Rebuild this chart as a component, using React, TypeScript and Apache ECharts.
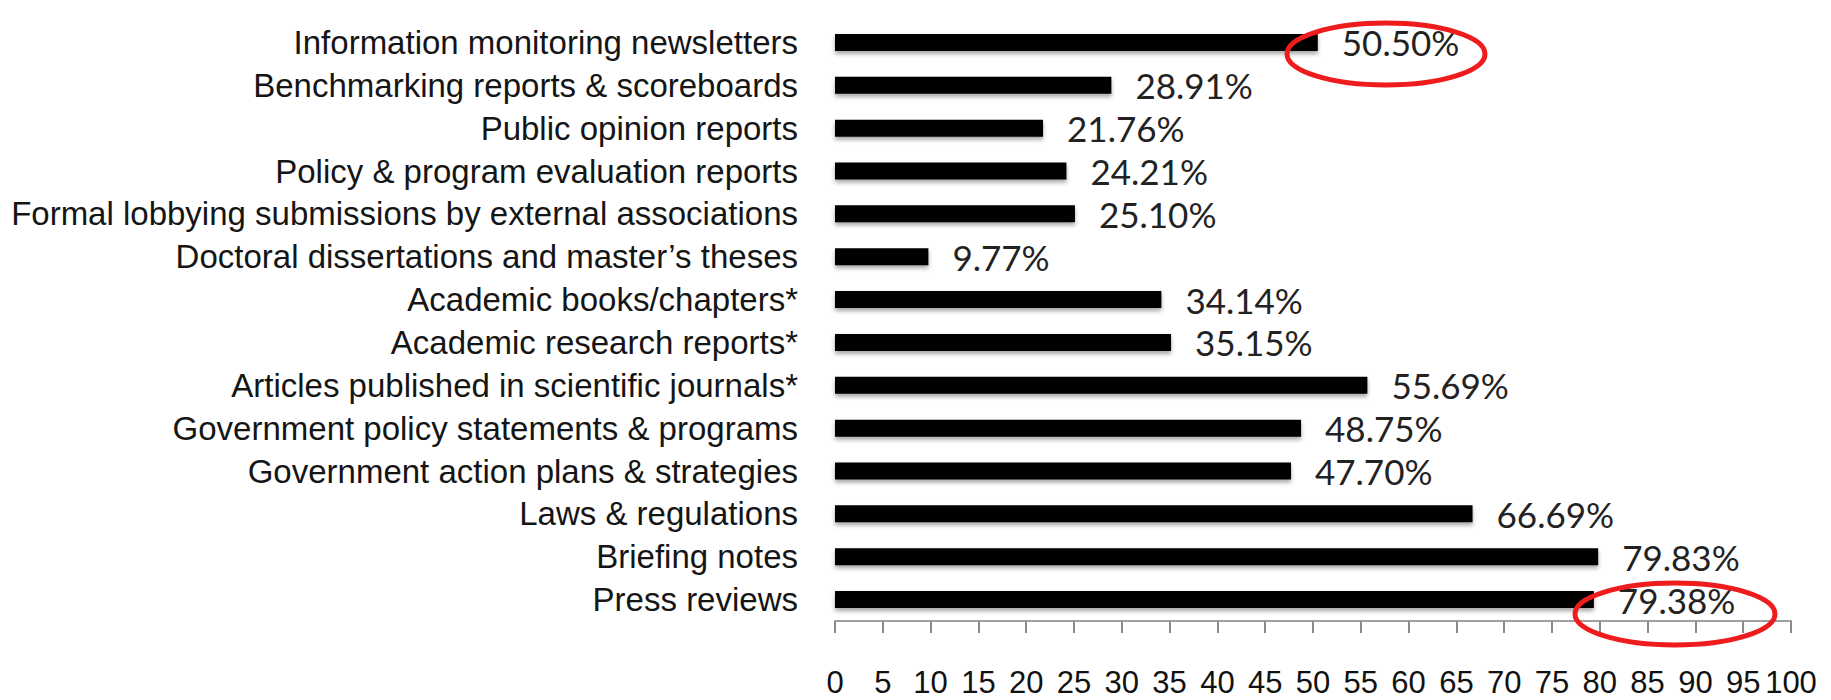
import React, { useEffect, useRef } from "react";
import * as echarts from "echarts";

const categories: string[] = [
  "Information monitoring newsletters",
  "Benchmarking reports & scoreboards",
  "Public opinion reports",
  "Policy & program evaluation reports",
  "Formal lobbying submissions by external associations",
  "Doctoral dissertations and master\u2019s theses",
  "Academic books/chapters*",
  "Academic research reports*",
  "Articles published in scientific journals*",
  "Government policy statements & programs",
  "Government action plans & strategies",
  "Laws & regulations",
  "Briefing notes",
  "Press reviews",
];

const values: number[] = [
  50.5, 28.91, 21.76, 24.21, 25.1, 9.77, 34.14, 35.15, 55.69, 48.75, 47.7, 66.69, 79.83, 79.38,
];

const xMin = 0;
const xMax = 100;
const xStep = 5;

const SANS = "'Liberation Sans', Arial, Helvetica, sans-serif";

export default function App() {
  const ref = useRef<HTMLDivElement>(null);

  useEffect(() => {
    document.body.style.margin = "0";
    if (!ref.current) return;
    const chart = echarts.init(ref.current, null, { renderer: "svg" });
    chart.setOption({
      animation: false,
      backgroundColor: "#ffffff",
      grid: {
        left: 835,
        right: 40,
        top: 21,
        height: 600,
        containLabel: false,
        outerBoundsMode: "none",
      },
      xAxis: {
        type: "value",
        min: xMin,
        max: xMax,
        interval: xStep,
        position: "bottom",
        splitLine: { show: false },
        axisLine: { show: true, lineStyle: { color: "#a0a0a0", width: 2 } },
        axisTick: { show: true, length: 12, lineStyle: { color: "#8a8a8a", width: 2 } },
        axisLabel: {
          fontFamily: SANS,
          fontSize: 31,
          color: "#111",
          margin: 46,
          showMinLabel: true,
          showMaxLabel: true,
          hideOverlap: false,
        },
      },
      yAxis: {
        type: "category",
        data: categories,
        inverse: true,
        axisLine: { show: false },
        axisTick: { show: false },
        splitLine: { show: false },
        axisLabel: {
          fontFamily: SANS,
          fontSize: 33,
          color: "#151515",
          margin: 37,
          interval: 0,
        },
      },
      series: [
        {
          type: "bar",
          data: values,
          barWidth: 17,
          itemStyle: {
            color: "#000000",
            shadowColor: "rgba(0,0,0,0.35)",
            shadowBlur: 4,
            shadowOffsetY: 3,
          },
          label: {
            show: true,
            position: "right",
            distance: 24,
            fontFamily: "Lato, 'Open Sans', sans-serif",
            fontSize: 35,
            color: "#222",
            formatter: (p: any) => Number(p.value).toFixed(2) + "%",
          },
        },
      ],
      graphic: [
        {
          type: "ellipse",
          z: 100,
          shape: { cx: 1386, cy: 54, rx: 99, ry: 31 },
          style: { fill: "none", stroke: "#ee1c1c", lineWidth: 5 },
        },
        {
          type: "ellipse",
          z: 100,
          shape: { cx: 1675, cy: 614, rx: 100, ry: 31 },
          style: { fill: "none", stroke: "#ee1c1c", lineWidth: 5 },
        },
      ],
    });
    return () => chart.dispose();
  }, []);

  return <div ref={ref} style={{ width: 1831, height: 700 }} />;
}
